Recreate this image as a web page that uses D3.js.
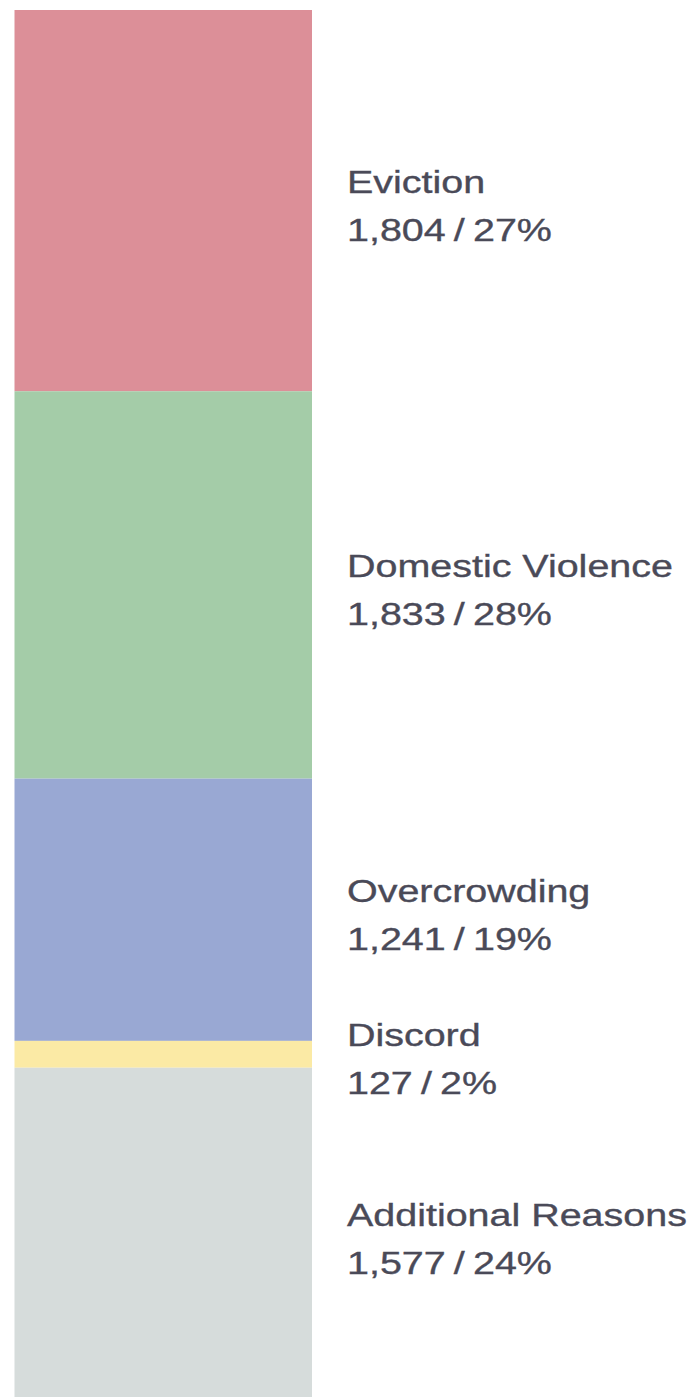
<!DOCTYPE html>
<html>
<head>
<meta charset="utf-8">
<script src="https://cdn.jsdelivr.net/npm/d3@7"></script>
<style>
  html, body { margin: 0; padding: 0; background: #ffffff; }
  svg { display: block; }
</style>
</head>
<body>
<div id="chart"></div>
<script>
const categories = ["Eviction", "Domestic Violence", "Overcrowding", "Discord", "Additional Reasons"];
const counts = [1804, 1833, 1241, 127, 1577];
const percents = [27, 28, 19, 2, 24];
const colors = ["#DC8F98", "#A4CCA8", "#99A8D3", "#FBEAA5", "#D6DCDB"];

const W = 700, H = 1397;
const svg = d3.select("#chart").append("svg").attr("width", W).attr("height", H);

const total = d3.sum(counts);
let acc = 0;
const data = categories.map((c, i) => {
  const d = { name: c, value: counts[i], pct: percents[i], color: colors[i], y0: acc, y1: acc + counts[i] };
  acc += counts[i];
  return d;
});

const y = d3.scaleLinear().domain([0, total]).range([10, 1401]);
const x = d3.scaleBand().domain(["bar"]).range([14.5, 312]).padding(0);

svg.append("g").selectAll("rect").data(data).join("rect")
  .attr("x", x("bar"))
  .attr("width", x.bandwidth())
  .attr("y", d => y(d.y0))
  .attr("height", d => y(d.y1) - y(d.y0))
  .attr("fill", d => d.color);

const fmt = d3.format(",");
const labels = svg.append("g").selectAll("g").data(data).join("g")
  .attr("transform", d => `translate(347, ${(y(d.y0) + y(d.y1)) / 2 - 8})`);

const inner = labels.append("g");
inner.append("text")
  .attr("class", "name")
  .attr("x", 0).attr("y", 0)
  .text(d => d.name);
inner.append("text")
  .attr("class", "value")
  .attr("x", 0).attr("y", 48)
  .attr("word-spacing", -2.2)
  .text(d => `${fmt(d.value)} / ${d.pct}%`);

inner.selectAll("text")
  .attr("font-family", "'Liberation Sans', Arial, sans-serif")
  .attr("font-size", 31)
  .attr("fill", "#4a4a58")
  .attr("stroke", "#4a4a58")
  .attr("stroke-width", 0.35);

// horizontally stretch labels to match the wide grotesque of the original
const ref = inner.filter(d => d.name === "Domestic Violence").select("text.name").node();
const sx = 326 / ref.getComputedTextLength();
inner.attr("transform", `scale(${sx},1)`);
</script>
</body>
</html>
